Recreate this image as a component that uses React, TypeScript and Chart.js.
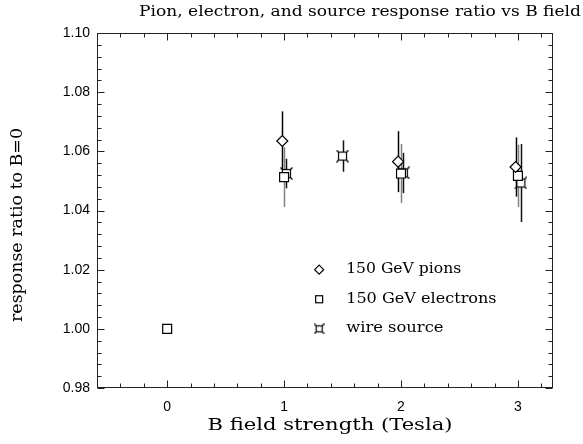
import React, { useEffect, useRef } from "react";
import { Chart, registerables } from "chart.js";

Chart.register(...registerables);

const titleText = "Pion, electron, and source response ratio vs B field";
const xTitle = "B field strength (Tesla)";
const yTitle = "response ratio to B=0";

const legendLabels = ["150 GeV pions", "150 GeV electrons", "wire source"];
const legendRowY = [1.02, 1.01, 1.0];
const legendMarkerX = 1.3;

const pionX = [0.985, 1.975, 2.98];
const pionY = [1.0635, 1.0565, 1.0547];
const pionErr = [0.01, 0.0103, 0.01];

const electronX = [0, 1.0, 2.0, 3.0];
const electronY = [1.0, 1.0513, 1.0525, 1.0517];
const electronErr = [0, 0.0101, 0.01, 0.0105];

const wireX = [1.02, 1.5, 2.02, 3.025];
const wireY = [1.0525, 1.0584, 1.0527, 1.0493];
const wireErr = [0.005, 0.0053, 0.0068, 0.0132];

const X_MIN = -0.6;
const X_MAX = 3.3;
const Y_MIN = 0.98;
const Y_MAX = 1.1;

const SERIF = "'DejaVu Serif', 'Liberation Serif', serif";
const SANS = "'Liberation Sans', Arial, sans-serif";

function makeWireMarker(size: number): HTMLCanvasElement {
  const c = document.createElement("canvas");
  c.width = size;
  c.height = size;
  const g = c.getContext("2d")!;
  const m = size / 2;
  const h = Math.round(size * 0.27);
  g.strokeStyle = "#000";
  g.lineWidth = 1.2;
  g.fillStyle = "#fff";
  g.fillRect(m - h, m - h, 2 * h, 2 * h);
  g.strokeRect(m - h, m - h, 2 * h, 2 * h);
  g.beginPath();
  const o = size / 2 - 0.5;
  for (const [sx, sy] of [[-1, -1], [1, -1], [1, 1], [-1, 1]]) {
    g.moveTo(m + sx * h, m + sy * h);
    g.lineTo(m + sx * o, m + sy * o);
  }
  g.stroke();
  return c;
}

// draw text stretched horizontally to a target width (text stays text)
function fitText(ctx: CanvasRenderingContext2D, text: string, x: number, y: number, width: number, size: number, align: "left" | "center") {
  ctx.save();
  ctx.font = `${size}px ${SERIF}`;
  const w = ctx.measureText(text).width;
  const sx = width / w;
  ctx.translate(x, y);
  ctx.scale(sx, 1);
  ctx.textAlign = align;
  ctx.textBaseline = "middle";
  ctx.fillText(text, 0, 0);
  ctx.restore();
}

export default function App() {
  const ref = useRef<HTMLCanvasElement | null>(null);

  useEffect(() => {
    const canvas = ref.current;
    if (!canvas) return;
    const wireImg = makeWireMarker(13);
    const wireLegendImg = makeWireMarker(11);

    const pts = (xs: number[], ys: number[]) => xs.map((x, i) => ({ x, y: ys[i] }));

    const errors = [
      { xs: pionX, ys: pionY, es: pionErr, color: "#000" },
      { xs: electronX, ys: electronY, es: electronErr, color: "#808080" },
      { xs: wireX, ys: wireY, es: wireErr, color: "#111" },
    ];

    const framePlugin = {
      id: "frame",
      beforeDatasetsDraw(chart: any) {
        const ctx = chart.ctx;
        const xs = chart.scales.x;
        const ys = chart.scales.y;
        ctx.save();
        ctx.lineWidth = 1.5;
        for (const e of errors) {
          ctx.strokeStyle = e.color;
          e.xs.forEach((xv: number, i: number) => {
            if (!e.es[i]) return;
            const px = Math.round(xs.getPixelForValue(xv)) + 0.5;
            ctx.beginPath();
            ctx.moveTo(px, ys.getPixelForValue(e.ys[i] + e.es[i]));
            ctx.lineTo(px, ys.getPixelForValue(e.ys[i] - e.es[i]));
            ctx.stroke();
          });
        }
        ctx.restore();
      },
      afterDraw(chart: any) {
        const ctx = chart.ctx;
        const a = chart.chartArea;
        const xs = chart.scales.x;
        const ys = chart.scales.y;
        ctx.save();
        ctx.strokeStyle = "#222";
        ctx.lineWidth = 1;
        const L = Math.round(a.left) + 0.5;
        const R = Math.round(a.right) - 0.5;
        const T = Math.round(a.top) + 0.5;
        const B = Math.round(a.bottom) - 0.5;
        ctx.strokeRect(L, T, R - L, B - T);
        ctx.beginPath();
        for (let i = 0; i <= 30; i++) {
          const v = Y_MIN + i * 0.004;
          const py = Math.round(ys.getPixelForValue(v)) + 0.5;
          const len = i % 5 === 0 ? 7 : 4;
          ctx.moveTo(L, py);
          ctx.lineTo(L + len, py);
          ctx.moveTo(R, py);
          ctx.lineTo(R - len, py);
        }
        for (let i = 0; i <= 19; i++) {
          const v = X_MIN + i * 0.2;
          const px = Math.round(xs.getPixelForValue(v)) + 0.5;
          const major = Math.abs(v - Math.round(v)) < 1e-6;
          const len = major ? 7 : 4;
          ctx.moveTo(px, B);
          ctx.lineTo(px, B - len);
          ctx.moveTo(px, T);
          ctx.lineTo(px, T + len);
        }
        ctx.stroke();

        ctx.fillStyle = "#000";
        fitText(ctx, titleText, 360, 12, 442, 14, "center");
        fitText(ctx, xTitle, 330, 426, 245, 17, "center");
        ctx.save();
        ctx.translate(18, 225);
        ctx.rotate(-Math.PI / 2);
        fitText(ctx, yTitle, 0, 0, 194, 16, "center");
        ctx.restore();

        const mx = xs.getPixelForValue(legendMarkerX);
        legendLabels.forEach((lab, i) => {
          const py = ys.getPixelForValue(legendRowY[i]);
          ctx.strokeStyle = "#000";
          ctx.lineWidth = 1.2;
          ctx.fillStyle = "#fff";
          if (i === 0) {
            ctx.beginPath();
            ctx.moveTo(mx, py - 4.5);
            ctx.lineTo(mx + 4.5, py);
            ctx.lineTo(mx, py + 4.5);
            ctx.lineTo(mx - 4.5, py);
            ctx.closePath();
            ctx.fill();
            ctx.stroke();
          } else if (i === 1) {
            ctx.fillRect(mx - 3.5, py - 3.5, 7, 7);
            ctx.strokeRect(mx - 3.5, py - 3.5, 7, 7);
          } else {
            ctx.drawImage(wireLegendImg, mx - wireLegendImg.width / 2, py - wireLegendImg.height / 2);
          }
          ctx.fillStyle = "#000";
          fitText(ctx, lab, mx + 27, py, lab.length * 8.85, 14, "left");
        });
        ctx.restore();
      },
    };

    const chart = new Chart(canvas, {
      type: "scatter",
      data: {
        datasets: [
          {
            label: legendLabels[0],
            data: pts(pionX, pionY),
            pointStyle: "rectRot",
            pointRadius: 5.5,
            borderColor: "#000",
            backgroundColor: "#fff",
            borderWidth: 1.2,
          },
          {
            label: legendLabels[1],
            data: pts(electronX, electronY),
            pointStyle: "rect",
            pointRadius: 6.3,
            borderColor: "#000",
            backgroundColor: "#fff",
            borderWidth: 1.2,
          },
          {
            label: legendLabels[2],
            data: pts(wireX, wireY),
            pointStyle: wireImg,
            pointRadius: 6,
            borderColor: "#000",
            backgroundColor: "#fff",
          },
        ],
      },
      options: {
        animation: false,
        responsive: false,
        devicePixelRatio: 1,
        layout: { padding: { top: 33, right: 30, left: 0, bottom: 0 } },
        plugins: {
          legend: { display: false },
          tooltip: { enabled: false },
          title: { display: false },
        },
        scales: {
          x: {
            type: "linear",
            min: X_MIN,
            max: X_MAX,
            border: { display: false },
            grid: { display: false, drawTicks: false },
            afterFit: (s: any) => {
              s.height = 56;
            },
            afterBuildTicks: (s: any) => {
              s.ticks = [0, 1, 2, 3].map((v) => ({ value: v }));
            },
            ticks: {
              padding: 11,
              color: "#000",
              font: { family: SANS, size: 14 },
              maxRotation: 0,
              callback: (v: any) => String(Math.round(Number(v))),
            },
          },
          y: {
            type: "linear",
            min: Y_MIN,
            max: Y_MAX,
            border: { display: false },
            grid: { display: false, drawTicks: false },
            afterFit: (s: any) => {
              s.width = 97;
            },
            afterBuildTicks: (s: any) => {
              s.ticks = [0.98, 1.0, 1.02, 1.04, 1.06, 1.08, 1.1].map((v) => ({ value: v }));
            },
            ticks: {
              padding: 7,
              color: "#000",
              font: { family: SANS, size: 14 },
              callback: (v: any) => Number(v).toFixed(2),
            },
          },
        },
      },
      plugins: [framePlugin],
    } as any);

    return () => chart.destroy();
  }, []);

  return (
    <div style={{ position: "absolute", left: 0, top: 0, width: 583, height: 444, background: "#fff" }}>
      <canvas ref={ref} width={583} height={444} />
    </div>
  );
}
